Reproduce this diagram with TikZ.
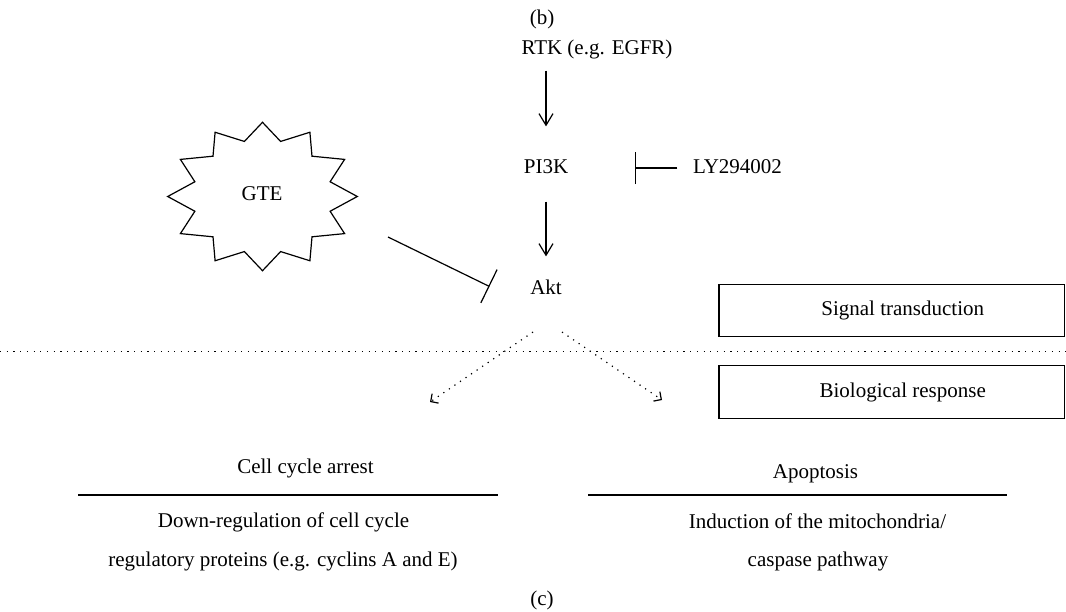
\documentclass[tikz,border=0pt]{standalone}
\usepackage{fontspec}
\setmainfont{Liberation Serif}
\usetikzlibrary{arrows.meta}
\begin{document}
\begin{tikzpicture}[x=0.5pt,y=-0.5pt,
  font=\fontsize{10.5}{12}\selectfont,
  line width=0.6pt,
  txt/.style={inner sep=0pt,anchor=base,text height=7pt,text depth=2pt},
  arr/.style={-{Straight Barb[length=5.8pt,width=7pt]}},
  inhib/.style={-{Bar[width=#1]}},
  dotline/.style={dash pattern=on 0.6pt off 2.75pt},
  dotarr/.style={dash pattern=on 0.6pt off 2.75pt,-{Straight Barb[length=2.8pt,width=5.7pt]}},
  infobox/.style={draw,inner sep=0pt,minimum width=172.75pt,minimum height=26.25pt}]
\useasboundingbox (0,0) rectangle (1066,611);
% top labels and pathway
\node[txt] (b) at (542,24) {(b)};
\node[txt] (rtk) at (597,54) {RTK (e.g. EGFR)};
\node[txt] (pi3k) at (546,173) {PI3K};
\node[txt] (ly) at (737.5,173) {LY294002};
\node[txt] (akt) at (546,294) {Akt};
\draw[arr,shorten <=6pt,shorten >=16pt] (rtk.south -| pi3k.north) -- (pi3k.north);
\draw[arr,shorten <=12pt,shorten >=11.5pt] (pi3k.south) -- (akt.north);
\draw[inhib=16pt,shorten <=7.5pt,shorten >=33pt] (ly.west) -- (pi3k.east);
% GTE starburst
\draw[shift={(262.5,196.5)}] (0:94.8 and 74.2)
  \foreach \k in {1,...,12} { -- ({\k*30-15}:70 and 57) -- ({\k*30}:94.8 and 74.2) } -- cycle;
\node[txt] (gte) at (262,200) {GTE};
\coordinate (gteA) at (388,237);
\coordinate (aktB) at (489.5,286.5);
\draw[inhib=18.5pt] (gteA) -- (aktB);
% boxes
\node[infobox] (st) at (891.75,310.5) {\hspace*{11pt}Signal transduction};
\node[infobox] (br) at (891.75,392) {\hspace*{11pt}Biological response};
% separator
\coordinate (sepL) at (0,351.5);
\coordinate (sepR) at (1066,351.5);
\draw[dotline] (sepL) -- (sepR);
% dotted arrows
\coordinate (l0) at (533,332);
\coordinate (r0) at (562,332);
\coordinate (cc) at (430,402);
\coordinate (ap) at (662,400);
\draw[dotarr] (l0) -- (cc);
\draw[dotarr] (r0) -- (ap);
% bottom
\node[txt] (cca) at (305.5,473) {Cell cycle arrest};
\draw (78,495) -- (498,495);
\node[txt] (dr1) at (283.5,527) {Down-regulation of cell cycle};
\node[txt] (dr2) at (283,566) {regulatory proteins (e.g. cyclins A and E)};
\node[txt] (apo) at (815.5,478) {Apoptosis};
\draw (588,495) -- (1007,495);
\node[txt] (in1) at (817.5,528) {Induction of the mitochondria/};
\node[txt] (in2) at (818,566) {caspase pathway};
\node[txt] (c) at (542,605) {(c)};
\end{tikzpicture}
\end{document}
